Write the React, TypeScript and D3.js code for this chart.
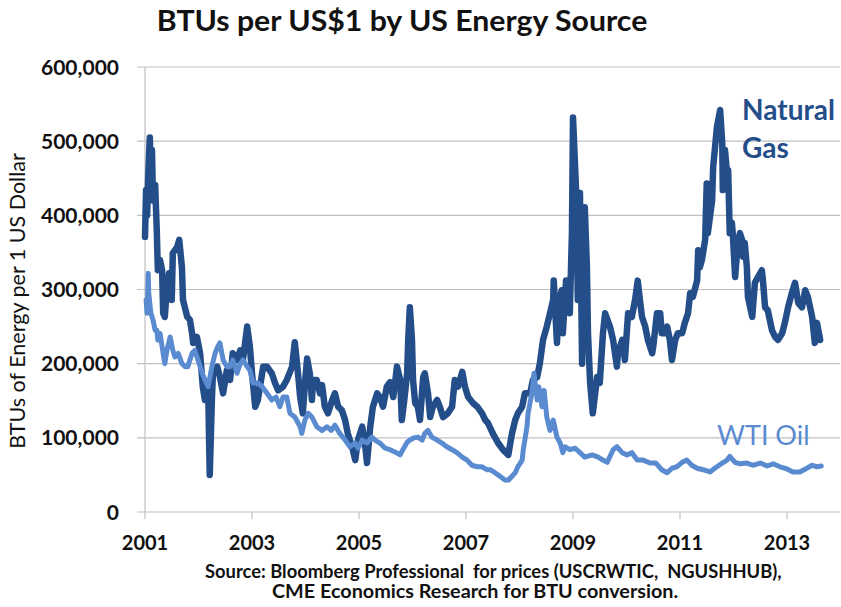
import React from "react";
import * as d3 from "d3";

const W = 841;
const H = 607;

const title = "BTUs per US$1 by US Energy Source";
const yAxisTitle = "BTUs of Energy per 1 US Dollar";
const sourceLines = [
  "Source: Bloomberg Professional  for prices (USCRWTIC,  NGUSHHUB),",
  "CME Economics Research for BTU conversion.",
];
const xTicks = [2001, 2003, 2005, 2007, 2009, 2011, 2013];
const yTicks = [0, 100000, 200000, 300000, 400000, 500000, 600000];

// [decimal year, BTUs per US$1]
const naturalGas: [number, number][] = [
  [2001.0, 371000], [2001.02, 434000], [2001.04, 400000], [2001.06, 454000], [2001.09, 505000],
  [2001.11, 454000], [2001.13, 488000], [2001.15, 420000], [2001.19, 441000], [2001.22, 380000],
  [2001.24, 326000], [2001.28, 340000], [2001.32, 326000], [2001.34, 268000], [2001.37, 263000],
  [2001.41, 303000], [2001.45, 322000], [2001.5, 286000], [2001.52, 349000], [2001.6, 357000],
  [2001.64, 367000], [2001.69, 330000], [2001.71, 286000], [2001.79, 263000], [2001.84, 259000],
  [2001.88, 241000], [2001.9, 228000], [2001.97, 236000], [2002.03, 214000], [2002.08, 169000],
  [2002.12, 151000], [2002.18, 169000], [2002.21, 50000], [2002.25, 151000], [2002.27, 187000],
  [2002.35, 196000], [2002.4, 182000], [2002.46, 160000], [2002.53, 191000], [2002.59, 178000],
  [2002.64, 214000], [2002.72, 205000], [2002.78, 218000], [2002.83, 205000], [2002.91, 250000],
  [2002.96, 223000], [2003.0, 187000], [2003.06, 142000], [2003.11, 151000], [2003.21, 196000],
  [2003.28, 196000], [2003.37, 187000], [2003.43, 174000], [2003.49, 164000], [2003.58, 169000],
  [2003.65, 178000], [2003.75, 196000], [2003.8, 229000], [2003.86, 187000], [2003.9, 155000],
  [2003.95, 133000], [2003.99, 174000], [2004.03, 207000], [2004.08, 187000], [2004.12, 151000],
  [2004.14, 178000], [2004.21, 178000], [2004.27, 160000], [2004.31, 171000], [2004.36, 142000],
  [2004.42, 133000], [2004.5, 151000], [2004.55, 160000], [2004.61, 142000], [2004.68, 137000],
  [2004.74, 124000], [2004.79, 106000], [2004.87, 88000], [2004.93, 70000], [2004.98, 97000],
  [2005.06, 115000], [2005.11, 93000], [2005.15, 66000], [2005.21, 115000], [2005.26, 142000],
  [2005.34, 160000], [2005.39, 155000], [2005.45, 142000], [2005.52, 169000], [2005.58, 175000],
  [2005.64, 155000], [2005.71, 196000], [2005.77, 178000], [2005.8, 124000], [2005.84, 147000],
  [2005.9, 187000], [2005.92, 232000], [2005.95, 276000], [2005.99, 232000], [2006.01, 178000],
  [2006.05, 147000], [2006.1, 142000], [2006.14, 124000], [2006.2, 182000], [2006.23, 187000],
  [2006.29, 160000], [2006.33, 128000], [2006.38, 142000], [2006.46, 151000], [2006.51, 142000],
  [2006.57, 128000], [2006.66, 133000], [2006.74, 142000], [2006.79, 178000], [2006.85, 169000],
  [2006.93, 189000], [2006.98, 169000], [2007.04, 155000], [2007.13, 147000], [2007.21, 142000],
  [2007.3, 133000], [2007.36, 124000], [2007.41, 120000], [2007.5, 106000], [2007.6, 93000],
  [2007.69, 84000], [2007.79, 77000], [2007.86, 106000], [2007.92, 124000], [2007.97, 133000],
  [2008.05, 142000], [2008.1, 160000], [2008.2, 160000], [2008.25, 178000], [2008.33, 182000],
  [2008.38, 200000], [2008.44, 232000], [2008.51, 250000], [2008.57, 268000], [2008.63, 286000],
  [2008.64, 312000], [2008.7, 228000], [2008.74, 286000], [2008.79, 299000], [2008.81, 241000],
  [2008.87, 312000], [2008.91, 286000], [2008.94, 268000], [2008.98, 376000], [2009.0, 532000],
  [2009.06, 430000], [2009.09, 286000], [2009.13, 430000], [2009.17, 200000], [2009.19, 286000],
  [2009.22, 411000], [2009.26, 330000], [2009.28, 241000], [2009.32, 174000], [2009.37, 133000],
  [2009.45, 182000], [2009.5, 174000], [2009.56, 241000], [2009.6, 268000], [2009.69, 250000],
  [2009.75, 232000], [2009.82, 196000], [2009.84, 214000], [2009.92, 232000], [2009.97, 205000],
  [2010.03, 268000], [2010.1, 263000], [2010.16, 286000], [2010.21, 312000], [2010.25, 286000],
  [2010.29, 263000], [2010.35, 250000], [2010.4, 232000], [2010.48, 214000], [2010.5, 223000],
  [2010.57, 268000], [2010.63, 268000], [2010.66, 241000], [2010.72, 241000], [2010.76, 250000],
  [2010.81, 232000], [2010.85, 205000], [2010.91, 232000], [2010.96, 241000], [2011.04, 241000],
  [2011.09, 255000], [2011.15, 268000], [2011.19, 295000], [2011.24, 290000], [2011.32, 312000],
  [2011.34, 353000], [2011.37, 330000], [2011.41, 340000], [2011.47, 367000], [2011.5, 443000],
  [2011.52, 376000], [2011.6, 420000], [2011.62, 465000], [2011.65, 488000], [2011.69, 519000],
  [2011.75, 542000], [2011.79, 497000], [2011.8, 434000], [2011.84, 488000], [2011.88, 457000],
  [2011.9, 461000], [2011.93, 376000], [2011.97, 390000], [2011.99, 371000], [2012.03, 317000],
  [2012.07, 353000], [2012.08, 363000], [2012.12, 376000], [2012.16, 367000], [2012.18, 344000],
  [2012.21, 363000], [2012.25, 330000], [2012.27, 290000], [2012.35, 263000], [2012.4, 309000],
  [2012.46, 317000], [2012.53, 326000], [2012.55, 312000], [2012.59, 276000], [2012.64, 272000],
  [2012.72, 245000], [2012.78, 236000], [2012.83, 232000], [2012.91, 241000], [2012.96, 255000],
  [2013.02, 276000], [2013.09, 295000], [2013.15, 309000], [2013.21, 282000], [2013.28, 276000],
  [2013.34, 299000], [2013.39, 290000], [2013.47, 263000], [2013.52, 228000], [2013.56, 255000],
  [2013.62, 232000],
];

const wtiOil: [number, number][] = [
  [2001.02, 286000], [2001.04, 268000], [2001.06, 322000], [2001.07, 295000], [2001.11, 268000],
  [2001.15, 259000], [2001.19, 245000], [2001.22, 245000], [2001.24, 232000], [2001.28, 241000],
  [2001.32, 223000], [2001.37, 200000], [2001.41, 218000], [2001.47, 236000], [2001.52, 218000],
  [2001.56, 209000], [2001.62, 214000], [2001.69, 200000], [2001.75, 196000], [2001.8, 196000],
  [2001.88, 214000], [2001.93, 218000], [2001.99, 205000], [2002.07, 187000], [2002.12, 178000],
  [2002.18, 169000], [2002.25, 196000], [2002.31, 214000], [2002.36, 223000], [2002.4, 228000],
  [2002.46, 205000], [2002.53, 196000], [2002.59, 196000], [2002.64, 205000], [2002.72, 187000],
  [2002.78, 200000], [2002.83, 205000], [2002.91, 196000], [2002.96, 191000], [2003.02, 174000],
  [2003.11, 174000], [2003.19, 169000], [2003.28, 160000], [2003.37, 151000], [2003.45, 155000],
  [2003.52, 142000], [2003.58, 155000], [2003.65, 155000], [2003.71, 133000], [2003.8, 128000],
  [2003.9, 115000], [2003.93, 106000], [2003.99, 124000], [2004.05, 133000], [2004.12, 128000],
  [2004.21, 115000], [2004.31, 110000], [2004.4, 115000], [2004.48, 110000], [2004.55, 117000],
  [2004.64, 106000], [2004.74, 97000], [2004.83, 88000], [2004.93, 93000], [2004.98, 86000],
  [2005.06, 97000], [2005.15, 93000], [2005.24, 101000], [2005.3, 97000], [2005.39, 93000],
  [2005.49, 86000], [2005.58, 84000], [2005.67, 81000], [2005.77, 77000], [2005.82, 84000],
  [2005.9, 94000], [2005.95, 97000], [2006.03, 100000], [2006.1, 101000], [2006.18, 97000],
  [2006.23, 106000], [2006.29, 110000], [2006.36, 101000], [2006.46, 97000], [2006.55, 93000],
  [2006.64, 88000], [2006.74, 84000], [2006.83, 80000], [2006.93, 74000], [2007.02, 70000],
  [2007.11, 63000], [2007.21, 61000], [2007.3, 61000], [2007.39, 57000], [2007.45, 57000],
  [2007.54, 53000], [2007.64, 48000], [2007.73, 43000], [2007.79, 43000], [2007.86, 48000],
  [2007.92, 53000], [2007.97, 61000], [2008.05, 70000], [2008.07, 84000], [2008.1, 97000],
  [2008.14, 115000], [2008.16, 133000], [2008.23, 160000], [2008.27, 187000], [2008.33, 151000],
  [2008.36, 169000], [2008.42, 142000], [2008.46, 164000], [2008.51, 128000], [2008.57, 110000],
  [2008.63, 124000], [2008.7, 101000], [2008.76, 93000], [2008.81, 80000], [2008.85, 88000],
  [2008.94, 84000], [2009.04, 86000], [2009.13, 80000], [2009.22, 74000], [2009.36, 77000],
  [2009.47, 74000], [2009.56, 70000], [2009.64, 67000], [2009.75, 84000], [2009.82, 88000],
  [2009.92, 80000], [2010.01, 77000], [2010.1, 80000], [2010.2, 70000], [2010.31, 70000],
  [2010.44, 66000], [2010.55, 66000], [2010.66, 57000], [2010.76, 53000], [2010.85, 59000],
  [2010.94, 61000], [2011.04, 67000], [2011.13, 70000], [2011.22, 63000], [2011.32, 59000],
  [2011.43, 57000], [2011.56, 54000], [2011.65, 59000], [2011.79, 66000], [2011.88, 70000],
  [2011.93, 75000], [2012.03, 67000], [2012.12, 65000], [2012.25, 66000], [2012.36, 63000],
  [2012.5, 66000], [2012.63, 62000], [2012.74, 65000], [2012.87, 61000], [2013.0, 58000],
  [2013.11, 54000], [2013.24, 54000], [2013.37, 59000], [2013.47, 63000], [2013.56, 61000],
  [2013.64, 62000],
];

const GAS_COLOR = "#244e8a";
const OIL_COLOR = "#5a8bd0";
const GRID = "#c0c0c0";
const FONT = "Lato, 'Open Sans', sans-serif";

function SText(props: {
  x: number;
  y: number;
  sx?: number;
  size: number;
  weight?: number;
  anchor?: string;
  fill?: string;
  children: React.ReactNode;
}) {
  const { x, y, sx = 1, size, weight = 400, anchor = "start", fill = "#111", children } = props;
  return (
    <text
      transform={`translate(${x},${y}) scale(${sx},1)`}
      textAnchor={anchor}
      fontSize={size}
      fontWeight={weight}
      fill={fill}
      style={{ whiteSpace: "pre" }}
    >
      {children}
    </text>
  );
}

export default function App() {
  const left = 145;
  const right = 840;
  const top = 67;
  const bottom = 512;

  const x = d3.scaleLinear().domain([2001, 2014]).range([left, left + 53.5 * 13]);
  const y = d3.scaleLinear().domain([0, 600000]).range([bottom, top]);
  const fmt = d3.format(",");

  const line = d3
    .line<[number, number]>()
    .x((d) => x(d[0]))
    .y((d) => y(d[1]));

  return (
    <svg
      width={W}
      height={H}
      style={{ position: "absolute", left: 0, top: 0, background: "#fff" }}
      fontFamily={FONT}
    >
      <rect x={0} y={0} width={W} height={H} fill="#fff" />
      <SText x={402} y={31} sx={1.08} size={28} weight={700} anchor="middle">
        {title}
      </SText>

      {/* gridlines */}
      {yTicks.map((t) => (
        <line key={"g" + t} x1={left - 8} x2={right} y1={y(t)} y2={y(t)} stroke={GRID} strokeWidth={1.2} />
      ))}
      <line x1={left} x2={left} y1={top} y2={bottom} stroke={GRID} strokeWidth={1.2} />
      {xTicks.map((t) => (
        <line key={"xt" + t} x1={x(t)} x2={x(t)} y1={bottom} y2={bottom + 7} stroke={GRID} strokeWidth={1.2} />
      ))}

      {/* y tick labels */}
      {yTicks.map((t) => (
        <text key={"yl" + t} x={119} y={y(t) + 7.5} textAnchor="end" fontSize={21} fontWeight={700} fill="#111">
          {fmt(t)}
        </text>
      ))}
      {/* x tick labels */}
      {xTicks.map((t) => (
        <text key={"xl" + t} x={x(t)} y={550} textAnchor="middle" fontSize={20} fontWeight={700} fill="#111">
          {String(t)}
        </text>
      ))}

      <text
        transform={`translate(25, 301) rotate(-90)`}
        textAnchor="middle"
        fontSize={21.5}
        fill="#111"
      >
        {yAxisTitle}
      </text>

      {/* series */}
      <path
        d={line(naturalGas) || ""}
        fill="none"
        stroke={GAS_COLOR}
        strokeWidth={6.5}
        strokeLinejoin="round"
        strokeLinecap="round"
      />
      <path
        d={line(wtiOil) || ""}
        fill="none"
        stroke={OIL_COLOR}
        strokeWidth={5}
        strokeLinejoin="round"
        strokeLinecap="round"
      />

      {/* series labels */}
      <text x={742} y={120} fontSize={28} fontWeight={700} fill={GAS_COLOR}>
        Natural
      </text>
      <text x={742} y={158} fontSize={28} fontWeight={700} fill={GAS_COLOR}>
        Gas
      </text>
      <text x={717} y={445} fontSize={27} fontWeight={400} fill={OIL_COLOR}>
        WTI Oil
      </text>

      {/* source */}
      <SText x={205} y={578} sx={1.02} size={18} weight={700}>
        {sourceLines[0]}
      </SText>
      <SText x={272} y={598} sx={1.1} size={18} weight={700}>
        {sourceLines[1]}
      </SText>
    </svg>
  );
}
